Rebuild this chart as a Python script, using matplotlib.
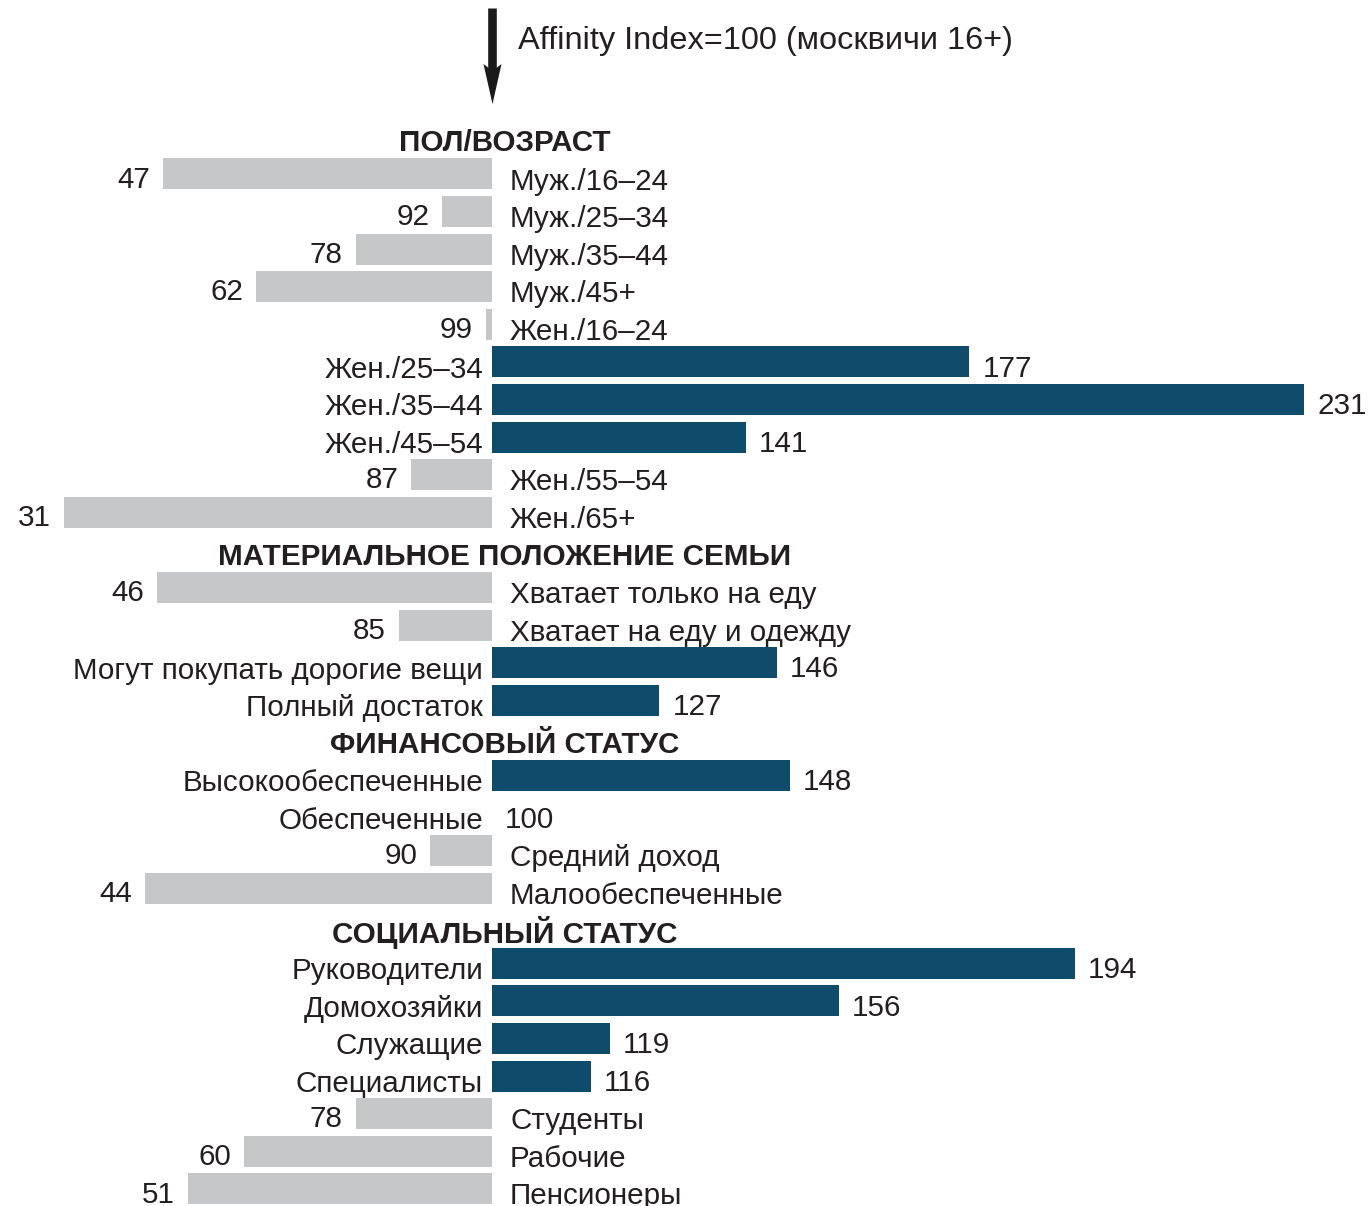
import matplotlib
matplotlib.use("Agg")
import matplotlib.pyplot as plt
from matplotlib import font_manager

# data
sections = ["ПОЛ/ВОЗРАСТ", "МАТЕРИАЛЬНОЕ ПОЛОЖЕНИЕ СЕМЬИ",
            "ФИНАНСОВЫЙ СТАТУС", "СОЦИАЛЬНЫЙ СТАТУС"]
sex_age = ["Муж./16–24", "Муж./25–34", "Муж./35–44", "Муж./45+", "Жен./16–24",
           "Жен./25–34", "Жен./35–44", "Жен./45–54", "Жен./55–54", "Жен./65+"]
sex_age_vals = [47, 92, 78, 62, 99, 177, 231, 141, 87, 31]
wealth = ["Хватает только на еду", "Хватает на еду и одежду",
          "Могут покупать дорогие вещи", "Полный достаток"]
wealth_vals = [46, 85, 146, 127]
finance = ["Высокообеспеченные", "Обеспеченные", "Средний доход", "Малообеспеченные"]
finance_vals = [148, 100, 90, 44]
social = ["Руководители", "Домохозяйки", "Служащие", "Специалисты",
          "Студенты", "Рабочие", "Пенсионеры"]
social_vals = [194, 156, 119, 116, 78, 60, 51]

groups = [(sex_age, sex_age_vals), (wealth, wealth_vals),
          (finance, finance_vals), (social, social_vals)]

BASE = 100
NAVY = "#0f4c6b"
GRAY = "#c6c7c9"
TXT = "#231f20"

names = {f.name for f in font_manager.fontManager.ttflist}
body_font = "Liberation Sans" if "Liberation Sans" in names else "DejaVu Sans"
head_font = "Liberation Sans Narrow" if "Liberation Sans Narrow" in names else body_font

W, H, DPI = 13.72, 12.06, 100
PX_UNIT = 6.2      # pixels per index unit
X0_PX = 492        # pixel position of index 100
ROW_PX = 37.59
TOP_PX = 136.4

fig = plt.figure(figsize=(W, H), dpi=DPI)
fig.patch.set_facecolor("white")
ax = fig.add_axes([0, 0, 1, 1])
ax.set_xlim(BASE - X0_PX / PX_UNIT, BASE + (W * DPI - X0_PX) / PX_UNIT)
ax.set_ylim((H * DPI - TOP_PX) / ROW_PX, -TOP_PX / ROW_PX)
ax.axis("off")


def px_x(p):
    return BASE + (p - X0_PX) / PX_UNIT


def px_y(p):
    return (p - TOP_PX) / ROW_PX


fs = 21.3
gap_l = 9 / PX_UNIT
gap_r = 18 / PX_UNIT
gap_v = 13 / PX_UNIT

row = 0
for title, (cats, vals) in zip(sections, groups):
    ax.text(px_x(505), row + 0.18, title, ha="center", va="center",
            fontsize=fs, fontweight="bold", family=head_font, color=TXT)
    row += 1
    for cat, v in zip(cats, vals):
        color = NAVY if v > BASE else GRAY
        if v != BASE:
            ax.barh(row, v - BASE, left=BASE, height=0.825, color=color, linewidth=0)
        if v >= BASE:
            ax.text(BASE - gap_l, row + 0.21, cat, ha="right", va="center",
                    fontsize=fs, family=body_font, color=TXT)
            ax.text(max(v, BASE) + gap_v, row + 0.18, str(v), ha="left",
                    va="center", fontsize=fs, family=body_font, color=TXT)
        else:
            ax.text(BASE + gap_r, row + 0.2, cat, ha="left", va="center",
                    fontsize=fs, family=body_font, color=TXT)
            ax.text(v - gap_v, row + 0.15, str(v), ha="right", va="center",
                    fontsize=fs, family=body_font, color=TXT)
        row += 1

# arrow marking index 100
ax.plot([BASE, BASE], [px_y(8), px_y(72)], color="#1a1a1a", lw=6.2,
        solid_capstyle="butt")
ax.fill([px_x(483.5), px_x(492.5), px_x(501.5), px_x(492.5)],
        [px_y(64), px_y(71), px_y(64), px_y(104)], color="#1a1a1a", lw=0)
ax.text(px_x(518), px_y(41), "Affinity Index=100 (москвичи 16+)", ha="left",
        va="center", fontsize=23.4, family=body_font, color=TXT)

fig.savefig("out.png", dpi=DPI, facecolor="white")
